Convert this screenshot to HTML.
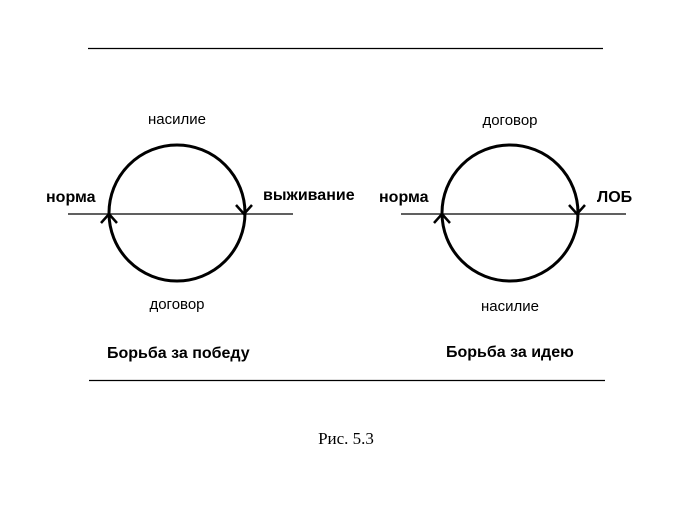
<!DOCTYPE html>
<html><head><meta charset="utf-8"><style>
body{margin:0;background:#fff;width:700px;height:500px;overflow:hidden}
svg text{font-family:"Liberation Sans",sans-serif}
</style></head><body>
<svg width="700" height="500" xmlns="http://www.w3.org/2000/svg">
<line x1="88" y1="48.5" x2="603" y2="48.5" stroke="#000" stroke-width="1.2"/>
<line x1="89" y1="380.5" x2="605" y2="380.5" stroke="#000" stroke-width="1.2"/>
<g stroke="#000" fill="none">
<circle cx="177" cy="213" r="68" stroke-width="3"/>
<line x1="68" y1="214" x2="293" y2="214" stroke-width="1.2"/>
<polyline points="101,223 109,214 117,223" stroke-width="2.5"/>
<polyline points="236,205 244,214 252,205" stroke-width="2.5"/>
<circle cx="510" cy="213" r="68" stroke-width="3"/>
<line x1="401" y1="214" x2="626" y2="214" stroke-width="1.2"/>
<polyline points="434,223 442,214 450,223" stroke-width="2.5"/>
<polyline points="569,205 577,214 585,205" stroke-width="2.5"/>
</g>
<g font-size="15" fill="#000">
<text x="177" y="124" text-anchor="middle">насилие</text>
<text x="177" y="309" text-anchor="middle">договор</text>
<text x="510" y="125" text-anchor="middle">договор</text>
<text x="510" y="311" text-anchor="middle">насилие</text>
</g>
<g font-size="16" font-weight="bold" fill="#000">
<text x="46" y="202">норма</text>
<text x="263" y="200">выживание</text>
<text x="379" y="202">норма</text>
<text x="597" y="202">ЛОБ</text>
<text x="107" y="358">Борьба за победу</text>
<text x="446" y="357">Борьба за идею</text>
</g>
<text x="346" y="444" text-anchor="middle" font-size="17" style="font-family:'Liberation Serif',serif">Рис. 5.3</text>
</svg>
</body></html>
